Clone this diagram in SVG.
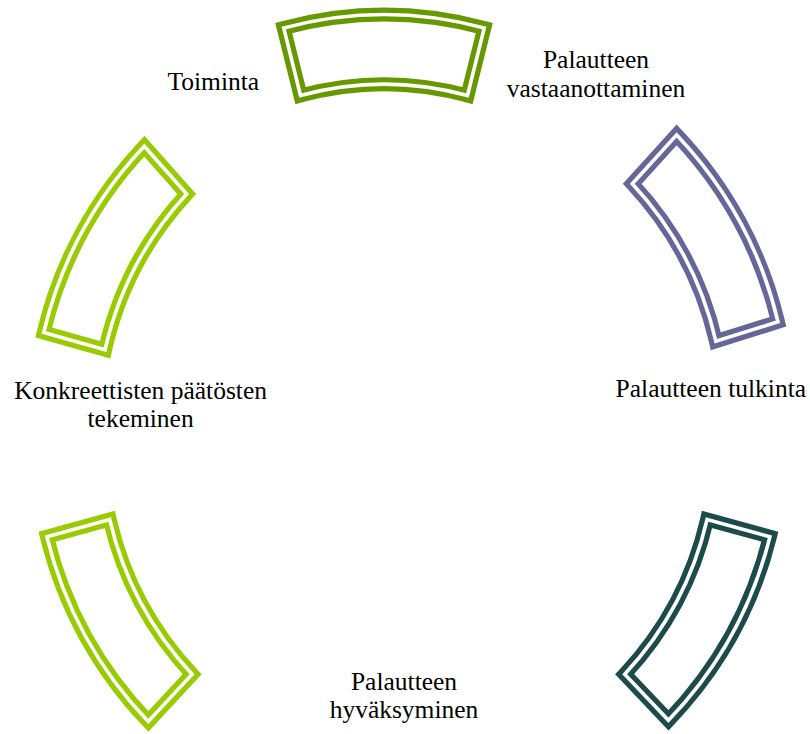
<svg xmlns="http://www.w3.org/2000/svg" xmlns:xlink="http://www.w3.org/1999/xlink" width="810" height="734" viewBox="0 0 810 734">
  <style>
    .label { font-family: "Liberation Serif", "Times New Roman", serif; font-size: 25.5px; fill: #000; text-anchor: middle; }
    .band { fill: none; stroke-width: 14; stroke-linejoin: miter; stroke-miterlimit: 10; }
    .gap { fill: none; stroke: #fff; stroke-width: 3.6; stroke-linejoin: miter; stroke-miterlimit: 10; }
    .c-dark-green { stroke: #669900; }
    .c-lime { stroke: #99cc00; }
    .c-purple { stroke: #666699; }
    .c-teal { stroke: #1d4a4b; }
  </style>
  <rect width="810" height="734" fill="#fff"/>

  <!-- Arc segments linking the cycle steps (double outline: coloured band + white gap) -->
  <g id="connectors">
    <g id="arc-toiminta-vastaanotto">
      <g class="band c-dark-green"><path id="arc1" d="M283.7 27.9 A387.5 387.5 0 0 1 484.3 27.9 L467.5 95.5 A318 318 0 0 0 300.5 95.5 Z"/></g>
      <use xlink:href="#arc1" href="#arc1" class="gap"/>
    </g>
    <g id="arc-vastaanotto-tulkinta">
      <g class="band c-purple"><path id="arc2" d="M676.7 134.9 A410.7 410.7 0 0 1 778 321.8 L715.9 341.3 A344.7 344.7 0 0 0 632.3 183.7 Z"/></g>
      <use xlink:href="#arc2" href="#arc2" class="gap"/>
    </g>
    <g id="arc-tulkinta-hyvaksyminen">
      <g class="band c-teal"><path id="arc3" d="M769.9 536.7 A405 405 0 0 1 668.5 720.3 L624.7 674.2 A338.7 338.7 0 0 0 707.1 519.5 Z"/></g>
      <use xlink:href="#arc3" href="#arc3" class="gap"/>
    </g>
    <g id="arc-hyvaksyminen-paatokset">
      <g class="band c-lime"><path id="arc4" d="M148.3 721.5 A405 405 0 0 1 46.9 536.7 L109.7 519.5 A338.7 338.7 0 0 0 192.1 674.2 Z"/></g>
      <use xlink:href="#arc4" href="#arc4" class="gap"/>
    </g>
    <g id="arc-paatokset-toiminta">
      <g class="band c-lime"><path id="arc5" d="M43.7 332.5 A409 409 0 0 1 144.3 146.2 L186.7 194 A339.6 339.6 0 0 0 105.1 349.7 Z"/></g>
      <use xlink:href="#arc5" href="#arc5" class="gap"/>
    </g>
  </g>

  <!-- Cycle steps -->
  <g id="node-toiminta">
    <text class="label" x="213.3" y="90">Toiminta</text>
  </g>
  <g id="node-vastaanottaminen">
    <text class="label" x="596" y="68.3">Palautteen</text>
    <text class="label" x="596" y="96.7">vastaanottaminen</text>
  </g>
  <g id="node-tulkinta">
    <text class="label" x="710.8" y="397.3">Palautteen tulkinta</text>
  </g>
  <g id="node-hyvaksyminen">
    <text class="label" x="404" y="690">Palautteen</text>
    <text class="label" x="404" y="718.3">hyväksyminen</text>
  </g>
  <g id="node-paatokset">
    <text class="label" x="140.6" y="399.3">Konkreettisten päätösten</text>
    <text class="label" x="140.6" y="427.3">tekeminen</text>
  </g>
</svg>
